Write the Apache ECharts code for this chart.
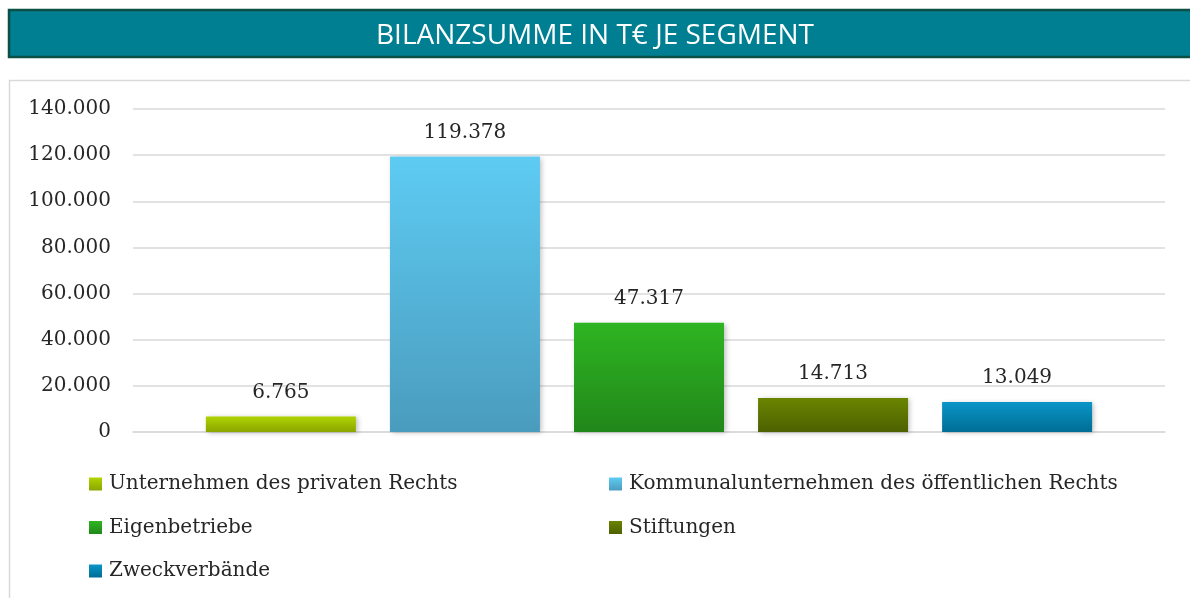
<!DOCTYPE html>
<html lang="de">
<head>
  <meta charset="UTF-8">
  <title>Bilanzsumme</title>
  <script src="https://cdn.jsdelivr.net/npm/echarts@6/dist/echarts.min.js"></script>
  <style>
    * { padding: 0; margin: 0; }
    #main { width: 1190px; height: 598px; background: #fff; }
  </style>
</head>
<body>
  <div id="main"></div>
  <script>
    var segments = ['Unternehmen des privaten Rechts', 'Kommunalunternehmen des öffentlichen Rechts',
      'Eigenbetriebe', 'Stiftungen', 'Zweckverbände'];
    var values = [6765, 119378, 47317, 14713, 13049];
    // gradient top / bottom per segment
    var topColors = ['#b0d400', '#5ecbf3', '#2eb522', '#6a8500', '#0a96c8'];
    var bottomColors = ['#8aa500', '#4a9cbd', '#21871a', '#4d6000', '#006d94'];
    var yTicks = [0, 20000, 40000, 60000, 80000, 100000, 120000, 140000];

    var serif = '"DejaVu Serif", serif';
    function fmt(v) {
      return String(v).replace(/\B(?=(\d{3})+(?!\d))/g, '.');
    }

    var chartDom = document.getElementById('main');
    var myChart = echarts.init(chartDom);

    var series = segments.map(function (name, i) {
      return {
        name: name,
        type: 'bar',
        barWidth: 150,
        barGap: '22.7%',
        data: [values[i]],
        itemStyle: {
          color: new echarts.graphic.LinearGradient(0, 0, 0, 1, [
            { offset: 0, color: topColors[i] },
            { offset: 1, color: bottomColors[i] }
          ]),
          shadowColor: 'rgba(0,0,0,0.25)',
          shadowBlur: 5,
          shadowOffsetX: 2,
          shadowOffsetY: 1
        },
        label: {
          show: true,
          position: 'top',
          distance: 14,
          fontFamily: serif,
          fontSize: 20,
          color: '#262626',
          formatter: function (p) { return fmt(p.value); }
        }
      };
    });

    var legendText = { fontFamily: serif, fontSize: 20, color: '#262626', padding: [0, 0, 0, 2] };

    var option = {
      animation: false,
      title: {
        text: 'BILANZSUMME IN T€ JE SEGMENT',
        left: 'center',
        top: 17,
        z: 10,
        textStyle: {
          color: '#ffffff',
          fontFamily: '"Open Sans", sans-serif',
          fontWeight: 'normal',
          fontSize: 28
        }
      },
      graphic: [
        {
          type: 'rect',
          z: -1,
          shape: { x: 9, y: 10, width: 1190, height: 47 },
          style: { fill: '#007e92', stroke: '#0b4f45', lineWidth: 2.5 }
        },
        {
          type: 'rect',
          z: -1,
          shape: { x: 9.5, y: 80.5, width: 1190, height: 540 },
          style: { fill: '#ffffff', stroke: '#d9d9d9', lineWidth: 1.5 }
        }
      ],
      grid: { left: 133, right: 25, top: 109, bottom: 166 },
      legend: [
        {
          left: 89, top: 474, orient: 'vertical', itemGap: 23.5, padding: 0,
          itemWidth: 13, itemHeight: 13, icon: 'rect',
          data: [segments[0], segments[2], segments[4]],
          textStyle: legendText
        },
        {
          left: 609, top: 474, orient: 'vertical', itemGap: 23.5, padding: 0,
          itemWidth: 13, itemHeight: 13, icon: 'rect',
          data: [segments[1], segments[3]],
          textStyle: legendText
        }
      ],
      xAxis: {
        type: 'category',
        data: ['Bilanzsumme'],
        axisLine: { lineStyle: { color: '#d9d9d9', width: 1.5 } },
        axisTick: { show: false },
        axisLabel: { show: false }
      },
      yAxis: {
        type: 'value',
        min: yTicks[0],
        max: yTicks[yTicks.length - 1],
        interval: 20000,
        axisLine: { show: false },
        axisTick: { show: false },
        splitLine: { lineStyle: { color: '#d9d9d9', width: 1.5 } },
        axisLabel: {
          margin: 22,
          fontFamily: serif,
          fontSize: 20,
          color: '#262626',
          formatter: function (v) { return fmt(v); }
        }
      },
      series: series
    };

    option && myChart.setOption(option);
  </script>
</body>
</html>
